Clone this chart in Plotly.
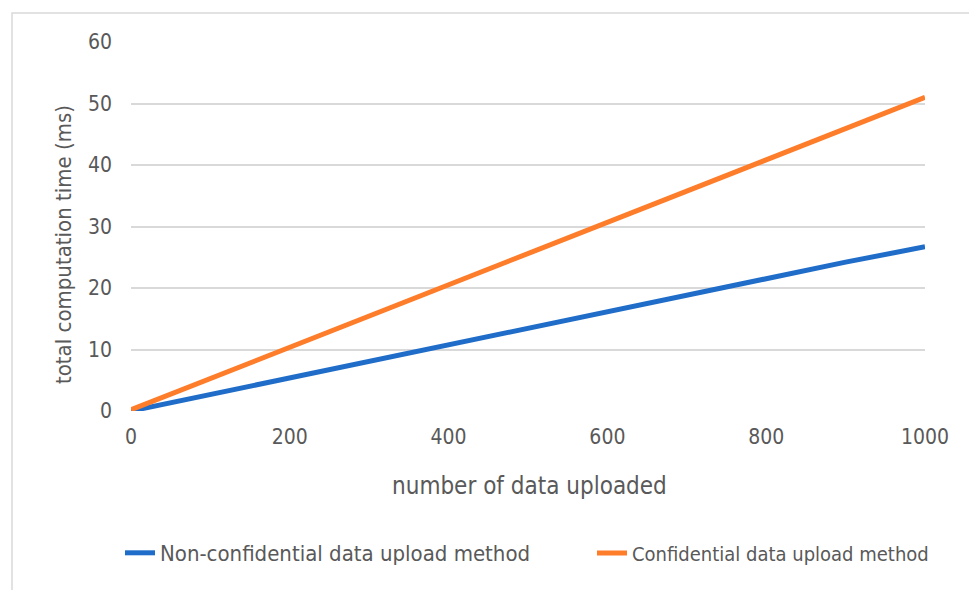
import plotly.graph_objects as go

x_vals = [0, 100, 200, 300, 400, 420, 500, 600, 700, 800, 900, 1000]
non_conf = [0, 2.7, 5.4, 8.1, 10.8, 11.3, 13.5, 16.2, 18.9, 21.6, 24.2, 26.7]
conf = [0.2, 5.3, 10.4, 15.5, 20.6, 21.6, 25.7, 30.8, 35.9, 40.9, 46.0, 51.0]
x_ticks = [0, 200, 400, 600, 800, 1000]
y_ticks = [0, 10, 20, 30, 40, 50, 60]

FONT = "DejaVu Sans Condensed, Liberation Sans Narrow, Roboto, sans-serif"
GRAY = "#595959"

# page offset of 8px (body margin)
OFF = 8
W, H = 977 - OFF, 590 - OFF

fig = go.Figure()
fig.add_trace(go.Scatter(x=x_vals, y=non_conf, mode="lines",
                         name="Non-confidential data upload method",
                         line=dict(color="#1f6dc9", width=5), legend="legend"))
fig.add_trace(go.Scatter(x=x_vals, y=conf, mode="lines",
                         name="Confidential data upload method",
                         line=dict(color="#fd7d2b", width=5), legend="legend2"))

L, R, T, B = 131 - OFF, W - (925 - OFF), 42 - OFF, H - (411 - OFF)
pw = W - L - R
ph = H - T - B


def px(xp):
    return (xp - OFF - L) / pw


def py(yp):
    return (H - B - (yp - OFF)) / ph


leg_common = dict(orientation="h", yanchor="middle", xanchor="left",
                  bgcolor="rgba(0,0,0,0)", itemwidth=30)

fig.update_layout(
    width=W, height=H,
    margin=dict(l=L, r=R, t=T, b=B, autoexpand=False),
    paper_bgcolor="white", plot_bgcolor="white",
    font=dict(family=FONT, color=GRAY, size=18),
    xaxis=dict(range=[0, 1000], tickvals=x_ticks, showgrid=False, zeroline=False,
               showline=False, ticks="", tickfont=dict(size=21, color=GRAY),
               ticklabelstandoff=11),
    yaxis=dict(range=[0, 60], tickvals=y_ticks, showgrid=True, gridcolor="#d9d9d9",
               gridwidth=2, zeroline=False, showline=False, ticks="",
               tickfont=dict(size=21, color=GRAY), ticklabelstandoff=18),
    legend=dict(x=px(120), y=py(553), font=dict(size=22, color=GRAY), **leg_common),
    legend2=dict(x=px(592), y=py(553), font=dict(size=20, color=GRAY), **leg_common),
    showlegend=True,
)

fig.add_annotation(text="number of data uploaded", xref="paper", yref="paper",
                   x=px(529), y=py(486), xanchor="center", yanchor="middle",
                   showarrow=False, font=dict(size=24, color=GRAY, family=FONT))
fig.add_annotation(text="total computation time (ms)", xref="paper", yref="paper",
                   x=px(63), y=py(245), xanchor="center", yanchor="middle",
                   showarrow=False, textangle=-90,
                   font=dict(size=22, color=GRAY, family=FONT))

fig.add_shape(type="rect", xref="paper", yref="paper",
              x0=px(12), x1=px(975.5), y0=py(600), y1=py(13),
              line=dict(color="#d9d9d9", width=1.5), fillcolor="rgba(0,0,0,0)")

fig.write_html("out.html")
